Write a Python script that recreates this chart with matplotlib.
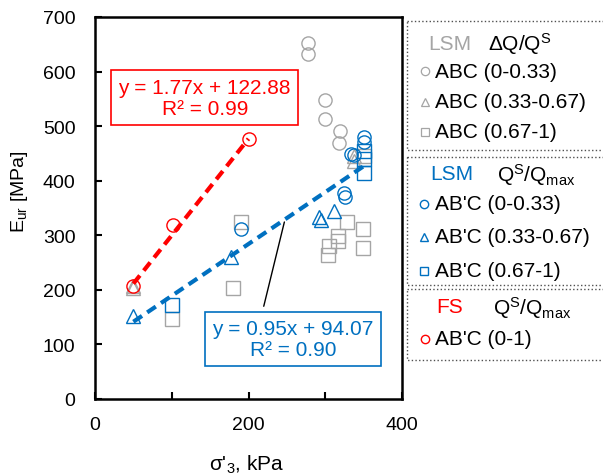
import matplotlib
matplotlib.use('Agg')
import matplotlib.pyplot as plt
from matplotlib.patches import Rectangle
import numpy as np

plt.rcParams['font.family'] = ['Liberation Sans', 'DejaVu Sans']
plt.rcParams['mathtext.fontset'] = 'custom'
plt.rcParams['mathtext.rm'] = 'Liberation Sans'
plt.rcParams['mathtext.it'] = 'Liberation Sans'

GRAY = '#A5A5A5'
BLUE = '#0070C0'
RED = '#FF0000'

# LSM, ABC (grey)
abc1_x = [277, 277, 300, 300, 319, 318]
abc1_y = [652, 632, 548, 514, 492, 470]
abc2_x = [50, 50, 337, 337]
abc2_y = [207, 203, 446, 437]
abc3_x = [100, 180, 190, 304, 305, 317, 317, 328, 349, 349, 350]
abc3_y = [147, 203, 325, 264, 281, 290, 299, 325, 312, 276, 445]

# LSM, AB'C (blue)
abpc1_x = [190, 325, 326, 334, 338, 350, 350]
abpc1_y = [311, 377, 371, 449, 447, 481, 471]
abpc2_x = [50, 177, 292, 295, 312]
abpc2_y = [152, 260, 333, 328, 345]
abpc3_x = [100, 350, 350, 350]
abpc3_y = [172, 455, 440, 415]

# FS, AB'C (red)
fs_x = [50, 102, 200]
fs_y = [207, 318, 476]

# trend lines
fs_fit = (1.77, 122.88)
lsm_fit = (0.95, 94.07)

fig = plt.figure(figsize=(6.03, 4.77), dpi=100)
ax = fig.add_axes([95 / 603, 1 - 400 / 477, 307 / 603, 382 / 477])

ms = 9.5
mew = 1.0
kw = dict(linestyle='none', markerfacecolor='none', markersize=ms, markeredgewidth=mew)
ax.plot(abc1_x, abc1_y, marker='o', color=GRAY, **kw)
ax.plot(abc2_x, abc2_y, marker='^', color=GRAY, **kw)
ax.plot(abc3_x, abc3_y, marker='s', color=GRAY, **kw)
ax.plot(abpc1_x, abpc1_y, marker='o', color=BLUE, **kw)
ax.plot(abpc2_x, abpc2_y, marker='^', color=BLUE, **kw)
ax.plot(abpc3_x, abpc3_y, marker='s', color=BLUE, **kw)
ax.plot(fs_x, fs_y, marker='o', color=RED, **kw)

xr = np.array([50, 200])
l1, = ax.plot(xr, fs_fit[0] * xr + fs_fit[1], color=RED, lw=3)
l1.set_dashes([2.5, 1.5])
xb = np.array([50, 350])
l2, = ax.plot(xb, lsm_fit[0] * xb + lsm_fit[1], color=BLUE, lw=3)
l2.set_dashes([2.5, 1.5])

ax.text(143, 552, 'y = 1.77x + 122.88\nR² = 0.99', color=RED, fontsize=15,
        ha='center', va='center', linespacing=1.15,
        bbox=dict(boxstyle='square,pad=0.35', fc='white', ec=RED, lw=1.2))
ax.annotate('', xy=(247.6, 329.3), xytext=(219, 165),
            arrowprops=dict(arrowstyle='-', color='black', lw=1))
ax.text(258, 110, 'y = 0.95x + 94.07\nR² = 0.90', color=BLUE, fontsize=15,
        ha='center', va='center', linespacing=1.15,
        bbox=dict(boxstyle='square,pad=0.35', fc='white', ec=BLUE, lw=1.2))

ax.set_xlim(0, 400)
ax.set_ylim(0, 700)
ax.set_xticks([0, 100, 200, 300, 400])
ax.set_xticklabels(['0', '', '200', '', '400'])
ax.set_yticks(range(0, 701, 100))
ax.tick_params(direction='in', length=5, width=1.5, labelsize=14, colors='black')
ax.tick_params(axis='y', pad=14)
ax.tick_params(axis='x', pad=12)
for s in ax.spines.values():
    s.set_linewidth(1.8)
ax.set_xlabel("σ'$_3$, kPa", fontsize=15)
ax.set_ylabel('E$_{ur}$ [MPa]', fontsize=14)
ax.xaxis.set_label_coords(0.495, -0.14)
ax.yaxis.set_label_coords(-0.212, 0.545)

# legend panel drawn in pixel coordinates
lg = fig.add_axes([0, 0, 1, 1], facecolor='none')
lg.set_xlim(0, 603)
lg.set_ylim(477, 0)
lg.axis('off')

boxes = [(22, 151), (158, 286), (290, 361)]
for top, bot in boxes:
    lg.add_patch(Rectangle((407, top), 220, bot - top, fill=False,
                           ec='#505050', lw=1, ls=':', clip_on=False))

fs = 15
lg.text(428, 44, 'LSM', color=GRAY, fontsize=fs, va='center')
lg.text(488, 44, 'ΔQ/Q$^{\\mathregular{S}}$', color='black', fontsize=fs, va='center')
rows1 = [('o', 72, 'ABC (0-0.33)'), ('^', 103, 'ABC (0.33-0.67)'), ('s', 133, 'ABC (0.67-1)')]
for m, y, t in rows1:
    lg.plot([425], [y], marker=m, color=GRAY, mfc='none', ms=6, mew=0.9, clip_on=False)
    lg.text(435, y, t, fontsize=fs, va='center')

lg.text(430, 175, 'LSM', color=BLUE, fontsize=fs, va='center')
lg.text(497, 175, 'Q$^{\\mathregular{S}}$/Q$_{\\mathregular{max}}$', color='black', fontsize=fs, va='center')
rows2 = [('o', 205, "AB'C (0-0.33)"), ('^', 238, "AB'C (0.33-0.67)"), ('s', 272, "AB'C (0.67-1)")]
for m, y, t in rows2:
    lg.plot([424], [y], marker=m, color=BLUE, mfc='none', ms=6, mew=1.0, clip_on=False)
    lg.text(435, y, t, fontsize=fs, va='center')

lg.text(436, 308, 'FS', color=RED, fontsize=fs, va='center')
lg.text(493, 308, 'Q$^{\\mathregular{S}}$/Q$_{\\mathregular{max}}$', color='black', fontsize=fs, va='center')
lg.plot([425], [340], marker='o', color=RED, mfc='none', ms=6, mew=1.0, clip_on=False)
lg.text(435, 340, "AB'C (0-1)", fontsize=fs, va='center')

fig.savefig('out.png', dpi=100)
